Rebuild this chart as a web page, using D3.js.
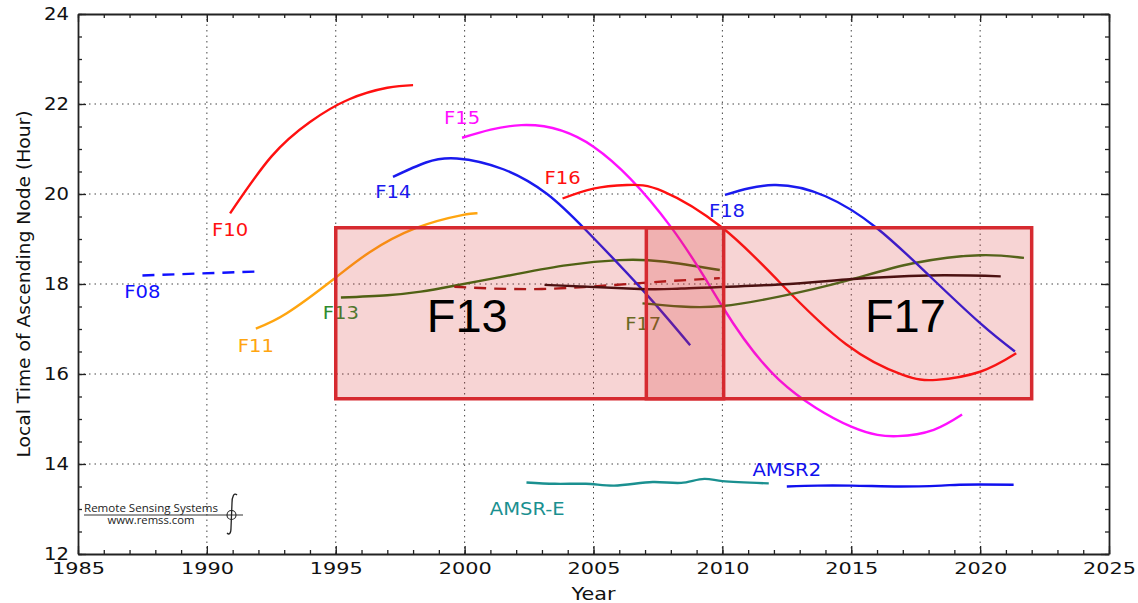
<!DOCTYPE html>
<html>
<head>
<meta charset="utf-8">
<script src="https://cdn.jsdelivr.net/npm/d3@7"></script>
<style>
  body { margin: 0; background: #fff; }
  svg text { font-family: "DejaVu Sans", sans-serif; }
  .grid line { stroke: #444; stroke-width: 1; stroke-dasharray: 1.5,4; }
  .axis path, .axis line { stroke: #222; }
  .axis path { stroke-width: 1.8; }
</style>
</head>
<body>
<script>
// orbit drift series: [year, local time of ascending node (hour)]
var f08 = [[1987.5,18.19],[1992.1,18.28]];
var f10 = [[1990.9,19.57],[1992.5,20.83],[1994,21.6],[1995.5,22.1],[1997,22.36],[1998,22.42]];
var f11 = [[1991.9,17.01],[1993.1,17.35],[1994.9,18.1],[1996.3,18.7],[1998.1,19.24],[1999.9,19.53],[2000.5,19.57]];
var f13 = [[1995.2,17.70],[1997,17.75],[1998.3,17.83],[1999.6,17.96],[2002,18.22],[2004,18.42],[2006,18.53],[2007.7,18.5],[2009.9,18.31]];
var f13b = [[1999.6,17.94],[2003,17.89],[2006.8,18.02],[2009.9,18.13]];
var f14 = [[1997.22,20.38],[1998.5,20.7],[1999.7,20.79],[2001.5,20.55],[2003.2,20.0],[2004.7,19.2],[2006.9,17.87],[2008.75,16.64]];
var f15 = [[1999.9,21.25],[2002.2,21.53],[2005,21.05],[2008,19.27],[2010,17.5],[2012.2,15.87],[2015,14.83],[2016.8,14.62],[2018.2,14.76],[2019.3,15.1]];
var f16 = [[2003.8,19.9],[2005,20.12],[2006.3,20.2],[2007.7,20.06],[2010,19.25],[2012.2,18.05],[2014.8,16.66],[2017,15.98],[2018.3,15.87],[2020,16.05],[2021.4,16.46]];
var f17 = [[2006.9,17.57],[2008.4,17.50],[2010,17.51],[2012.2,17.72],[2014.8,18.07],[2017.4,18.46],[2020,18.64],[2021.7,18.58]];
var f17b = [[2003.1,17.98],[2006.8,17.89],[2008.4,17.90],[2012.2,17.99],[2014.8,18.10],[2018,18.19],[2020.8,18.17]];
var f18 = [[2010.1,19.98],[2012,20.2],[2014,19.95],[2016,19.24],[2018,18.2],[2020,17.13],[2021.35,16.5]];
var amsre = [[2002.4,13.59],[2003.5,13.56],[2004.7,13.56],[2005.8,13.52],[2007.3,13.6],[2008.4,13.58],[2009.3,13.67],[2010,13.62],[2011.8,13.57]];
var amsr2 = [[2012.5,13.5],[2013.7,13.52],[2015,13.52],[2016.9,13.5],[2018.5,13.52],[2019.2,13.54],[2021.3,13.54]];

var seriesNames = ["F08","F10","F11","F13","F13b","F14","F15","F16","F17","F17b","F18","AMSR-E","AMSR2"];
var seriesData = [f08,f10,f11,f13,f13b,f14,f15,f16,f17,f17b,f18,amsre,amsr2];
var seriesColors = ["#1010ff","#ff1010","#ffa510","#2f7010","#a01515","#1a1aee","#ff10ff","#ff1010","#357218","#2a0c0c","#1a1aee","#1a9090","#1010ee"];
var seriesDashed = [true,false,false,false,true,false,false,false,false,false,false,false,false];
var seriesWiggly = [false,false,false,false,false,false,false,false,false,false,false,true,true];

// satellite labels: name, year, hour
var labelNames = ["F08","F10","F11","F13","F14","F15","F16","F17","F18","AMSR-E","AMSR2"];
var labelYears = [1987.5,1990.9,1991.9,1995.2,1997.23,1999.9,2003.8,2006.93,2010.18,2002.43,2012.5];
var labelHours = [17.82,19.2,16.62,17.36,20.04,21.69,20.36,17.11,19.62,13.0,13.87];
var labelColors = ["#1010ff","#ff1010","#ffa510","#2e8b2e","#1a1aee","#ff10ff","#ff1010","#4e7a22","#1a1aee","#1a9090","#1010ee"];

// operating periods boxes
var boxNames = ["F13","F17"];
var boxStart = [1995.0,2007.05];
var boxEnd = [2010.05,2022.0];
var boxLow = [15.45,15.45];
var boxHigh = [19.25,19.25];
var boxLabelYear = [2000.1,2017.1];

var xTicks = [1985,1990,1995,2000,2005,2010,2015,2020,2025];
var yTicks = [12,14,16,18,20,22,24];

(function(){
    var width = 1138, height = 603;

    var svg = d3.select("body").append("svg")
        .attr("width", width)
        .attr("height", height);

    var x = d3.scaleLinear().domain([1985,2025]).range([78,1109]);
    var y = d3.scaleLinear().domain([12,24]).range([554,14]);

    //dotted grid
    var grid = svg.append("g").attr("class","grid");
    grid.selectAll(".gx").data(xTicks.slice(1,-1)).enter().append("line")
        .attr("x1", function(d){ return x(d); }).attr("x2", function(d){ return x(d); })
        .attr("y1", y(12)).attr("y2", y(24));
    grid.selectAll(".gy").data(yTicks.slice(1,-1)).enter().append("line")
        .attr("y1", function(d){ return y(d); }).attr("y2", function(d){ return y(d); })
        .attr("x1", x(1985)).attr("x2", x(2025));

    //satellite lines
    var smooth = d3.line()
        .x(function(d){ return x(d[0]); })
        .y(function(d){ return y(d[1]); })
        .curve(d3.curveNatural);
    var wiggly = d3.line()
        .x(function(d){ return x(d[0]); })
        .y(function(d){ return y(d[1]); })
        .curve(d3.curveCatmullRom.alpha(0.5));

    svg.selectAll(".series").data(seriesData).enter().append("path")
        .attr("class","series")
        .attr("d", function(d,i){ return seriesWiggly[i] ? wiggly(d) : smooth(d); })
        .attr("fill","none")
        .attr("stroke", function(d,i){ return seriesColors[i]; })
        .attr("stroke-width", 2.4)
        .attr("stroke-dasharray", function(d,i){ return seriesDashed[i] ? "12,8" : null; });

    //satellite labels
    svg.selectAll(".lab").data(labelNames).enter().append("text")
        .attr("class","stretch")
        .attr("x", function(d,i){ return x(labelYears[i]); })
        .attr("y", function(d,i){ return y(labelHours[i]); })
        .attr("text-anchor","middle")
        .attr("dominant-baseline","central")
        .attr("font-size", 17)
        .attr("fill", function(d,i){ return labelColors[i]; })
        .text(function(d){ return d; });

    //boxes over the lines
    svg.selectAll(".box").data(boxNames).enter().append("rect")
        .attr("x", function(d,i){ return x(boxStart[i]); })
        .attr("y", function(d,i){ return y(boxHigh[i]); })
        .attr("width", function(d,i){ return x(boxEnd[i]) - x(boxStart[i]); })
        .attr("height", function(d,i){ return y(boxLow[i]) - y(boxHigh[i]); })
        .attr("fill","rgba(214,39,40,0.2)")
        .attr("stroke","#d62a30")
        .attr("stroke-width", 3.5);

    svg.selectAll(".boxlab").data(boxNames).enter().append("text")
        .attr("x", function(d,i){ return x(boxLabelYear[i]); })
        .attr("y", 332)
        .attr("text-anchor","middle")
        .style("font-family","'Liberation Sans', Arial, sans-serif")
        .attr("font-size", 47)
        .attr("fill","#000")
        .text(function(d){ return d; });

    //axes with inward ticks on all sides
    function addAxis(axisFn, scale, ticks, size, transform, labels, fontSize){
        var ax = axisFn(scale).tickValues(ticks).tickSizeInner(-size).tickSizeOuter(0).tickPadding(9);
        ax.tickFormat(labels ? d3.format("d") : "");
        var g = svg.append("g").attr("class","axis").attr("transform", transform).call(ax);
        g.selectAll("text").attr("font-size", fontSize).attr("fill","#111")
            .style("font-family","'DejaVu Sans', sans-serif");
        g.selectAll("line").attr("stroke-width", 1.3);
        return g;
    }
    var xMinor = d3.range(1985, 2026, 1);
    var yMinor = d3.range(12, 24.01, 0.5);
    addAxis(d3.axisBottom, x, xMinor, 4, "translate(0," + y(12) + ")", false, 16);
    var xAxis = addAxis(d3.axisBottom, x, xTicks, 8, "translate(0," + y(12) + ")", true, 16);
    xAxis.select(".domain").remove();
    xAxis.selectAll("text").attr("class","wide");
    addAxis(d3.axisTop, x, xMinor, 4, "translate(0," + y(24) + ")", false, 16);
    addAxis(d3.axisTop, x, xTicks, 8, "translate(0," + y(24) + ")", false, 16).select(".domain").remove();
    addAxis(d3.axisLeft, y, yMinor, 4, "translate(" + x(1985) + ",0)", false, 18);
    var yAxis = addAxis(d3.axisLeft, y, yTicks, 8, "translate(" + x(1985) + ",0)", true, 18);
    yAxis.select(".domain").remove();
    yAxis.selectAll("text").attr("class","ylab").attr("dy","0.3em");
    addAxis(d3.axisRight, y, yMinor, 4, "translate(" + x(2025) + ",0)", false, 18);
    addAxis(d3.axisRight, y, yTicks, 8, "translate(" + x(2025) + ",0)", false, 18).select(".domain").remove();

    //axis titles
    svg.append("text").attr("class","stretch")
        .attr("x", (x(1985)+x(2025))/2).attr("y", 600)
        .attr("text-anchor","middle").attr("font-size", 18).attr("fill","#111")
        .text("Year");
    svg.append("text")
        .attr("transform","translate(30," + (y(12)+y(24))/2 + ") rotate(-90)")
        .attr("text-anchor","middle").attr("font-size", 18).attr("fill","#111")
        .attr("textLength", 347).attr("lengthAdjust","spacingAndGlyphs")
        .text("Local Time of Ascending Node (Hour)");

    //Remote Sensing Systems logo
    var logo = svg.append("g").attr("transform","translate(84,500)");
    logo.append("text").attr("x", 67).attr("y", 11.5).attr("text-anchor","middle")
        .style("font-family","'Open Sans', 'DejaVu Sans', sans-serif")
        .attr("font-size", 11).attr("fill","#222")
        .attr("textLength", 134).attr("lengthAdjust","spacingAndGlyphs")
        .text("Remote Sensing Systems");
    logo.append("text").attr("x", 67).attr("y", 23.5).attr("text-anchor","middle")
        .style("font-family","'Open Sans', 'DejaVu Sans', sans-serif")
        .attr("font-size", 10.5).attr("fill","#222")
        .attr("textLength", 87).attr("lengthAdjust","spacingAndGlyphs")
        .text("www.remss.com");
    logo.append("line").attr("x1",0).attr("x2",159).attr("y1",15).attr("y2",15)
        .attr("stroke","#333").attr("stroke-width",1);
    logo.append("path")
        .attr("d","M153,-5 C150,-8 148,-3 148,3 L147,28 C147,34 145,35 143,33")
        .attr("fill","none").attr("stroke","#222").attr("stroke-width",1.3);
    logo.append("circle").attr("cx",147.5).attr("cy",15).attr("r",4.5)
        .attr("fill","none").attr("stroke","#222").attr("stroke-width",1.1);

    //widen text to match reference proportions
    function widen(sel, factor){
        sel.each(function(){
            var w = this.getComputedTextLength();
            if (w > 0) d3.select(this).attr("textLength", w * factor).attr("lengthAdjust","spacingAndGlyphs");
        });
    }
    widen(svg.selectAll("text.stretch"), 1.15);
    widen(svg.selectAll("text.wide"), 1.3);
    widen(svg.selectAll("text.ylab"), 1.09);
})();
</script>
</body>
</html>
